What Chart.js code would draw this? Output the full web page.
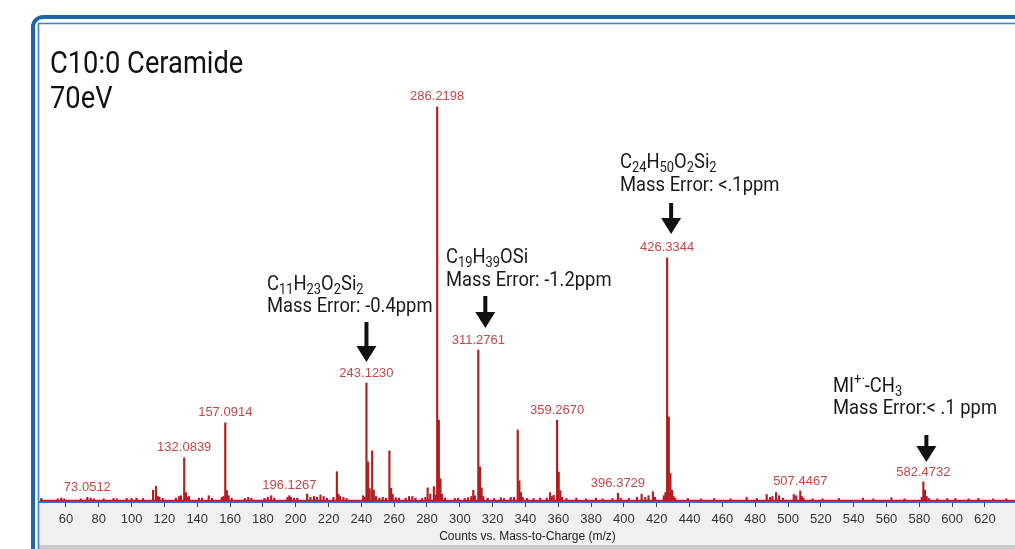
<!DOCTYPE html>
<html><head><meta charset="utf-8">
<script src="https://cdn.jsdelivr.net/npm/chart.js@4.4.1/dist/chart.umd.min.js"></script>
<style>
html,body{margin:0;padding:0;background:#fff;overflow:hidden;}
#wrap{position:relative;width:1015px;height:549px;}
</style></head><body>
<div id="wrap"><canvas id="c" width="1015" height="549"></canvas></div>
<script>
// ---- data ----
const peakMz = [45.0,55.0,57.1,59.0,69.0,73.05,75.0,77.0,83.0,89.0,91.0,97.0,100.0,103.0,107.0,113.1,114.9,116.0,117.0,119.0,127.0,129.0,130.1,132.08,133.1,134.1,135.0,141.0,143.0,147.0,149.0,155.0,156.0,157.09,158.1,159.1,161.0,169.0,171.1,173.0,181.0,183.0,185.1,187.0,195.0,196.13,197.1,199.0,201.0,207.0,209.0,211.1,213.0,215.1,217.0,219.0,223.0,225.1,226.1,227.1,229.1,231.0,241.1,242.1,243.12,244.12,245.1,246.6,247.6,249.0,251.0,253.0,255.0,257.1,258.1,259.1,261.0,263.0,267.0,269.1,271.1,273.0,277.0,279.0,280.4,282.0,284.2,285.2,286.22,287.22,288.2,289.2,291.0,297.0,299.0,303.0,305.0,307.0,308.2,309.2,311.28,312.28,313.28,314.3,317.0,321.0,325.0,327.0,331.0,333.0,335.3,336.3,337.3,338.3,341.0,345.0,349.0,353.0,355.0,356.0,357.2,359.27,360.27,361.27,362.3,365.0,371.0,377.0,383.0,387.0,393.0,396.37,398.0,403.0,408.0,410.8,413.0,415.0,417.7,419.0,424.3,425.3,426.33,427.33,428.33,429.3,430.3,431.3,439.0,447.0,455.0,465.0,474.8,481.0,487.0,489.0,490.5,492.7,494.5,497.0,503.5,505.0,507.45,508.4,509.4,515.0,521.0,531.0,545.6,552.0,563.0,571.0,581.5,582.47,583.47,584.47,586.0,591.0,597.0,602.0,610.0,616.0,625.0,633.0];
const peakIntensity = [0.5,0.4,0.6,0.4,0.4,0.8,0.6,0.4,0.4,0.5,0.4,0.5,0.5,0.6,0.5,2.6,3.6,1.0,0.8,0.5,0.6,1.0,1.2,10.8,2.0,0.8,1.0,0.6,0.6,1.2,0.6,0.8,1.0,19.7,2.5,1.2,0.6,0.5,0.8,0.6,0.5,0.8,1.2,0.6,0.8,1.2,0.8,0.6,0.6,1.6,0.8,1.0,0.8,1.4,1.0,0.6,0.8,7.3,1.6,1.0,0.8,0.5,1.2,0.8,29.8,9.8,3.0,12.6,2.6,1.0,0.6,0.8,0.6,12.6,3.1,1.6,0.7,0.6,0.6,1.0,1.0,0.6,0.5,0.8,3.2,1.6,3.5,1.4,100,20.4,5.5,1.6,0.6,0.5,0.6,0.5,0.7,1.0,2.6,1.2,38.2,8.5,3.2,1.0,0.6,0.5,0.7,0.5,0.8,0.8,17.9,5.0,2.0,0.8,0.5,0.5,0.6,0.6,2.0,1.0,1.3,20.4,7.2,2.5,0.8,0.5,0.6,0.4,0.6,0.4,0.5,1.8,0.6,0.5,0.8,1.6,0.8,1.2,2.2,0.8,1.2,2.0,61.6,21.2,6.8,2.6,1.0,0.6,0.5,0.4,0.5,0.4,0.8,0.5,1.5,0.8,1.0,2.0,1.2,0.6,1.5,1.2,2.4,1.0,0.6,0.4,0.4,0.5,0.6,0.4,0.7,0.4,0.8,4.7,2.6,1.0,0.5,0.4,0.5,0.5,0.4,0.5,0.4,0.4];
const peakLabels = ['73.0512','132.0839','157.0914','196.1267','243.1230','286.2198','311.2761','359.2670','396.3729','426.3344','507.4467','582.4732'];
const tickValues = [60,80,100,120,140,160,180,200,220,240,260,280,300,320,340,360,380,400,420,440,460,480,500,520,540,560,580,600,620];
const xMin = 44.2, xMax = 638.3;
const titleLines = ['C10:0 Ceramide','70eV'];
const axisTitle = 'Counts vs. Mass-to-Charge (m/z)';
const annFormula = ['C_{11}H_{23}O_{2}Si_{2}','C_{19}H_{39}OSi','C_{24}H_{50}O_{2}Si_{2}','MI^{+·}-CH_{3}'];
const annError = ['Mass Error: -0.4ppm','Mass Error: -1.2ppm','Mass Error: <.1ppm','Mass Error:< .1 ppm'];
const annPeak = [243.1230, 311.2761, 426.3344, 582.4732];

// ---- layout / style (not data) ----
const annLayout = [
  {textX:267, base1:290, base2:312, dx:0, top:322, tip:362},
  {textX:446, base1:263, base2:286, dx:7, top:296, tip:328},
  {textX:620, base1:168, base2:191, dx:4, top:203, tip:234},
  {textX:833, base1:392, base2:414, dx:3, top:435, tip:462}
];
const SANS = '"Liberation Sans", Arial, sans-serif';

function parseRich(s){
  const segs=[]; let i=0, buf='';
  while(i<s.length){
    if((s[i]==='_'||s[i]==='^') && s[i+1]==='{'){
      if(buf){segs.push({t:buf,k:'n'});buf='';}
      const j=s.indexOf('}',i);
      segs.push({t:s.slice(i+2,j),k:s[i]==='_'?'sub':'sup'});
      i=j+1;
    } else { buf+=s[i]; i++; }
  }
  if(buf) segs.push({t:buf,k:'n'});
  return segs;
}
function drawRich(ctx, s, x, y, size, sx, color){
  ctx.save();
  ctx.translate(x,y); ctx.scale(sx,1);
  ctx.fillStyle=color; ctx.textBaseline='alphabetic'; ctx.textAlign='left';
  let cx=0;
  for(const seg of parseRich(s)){
    let fs=size, dy=0;
    if(seg.k==='sub'){fs=size*0.7; dy=size*0.2;}
    if(seg.k==='sup'){fs=size*0.7; dy=-size*0.38;}
    ctx.font = fs+'px Roboto';
    ctx.fillText(seg.t,cx,dy);
    cx+=ctx.measureText(seg.t).width;
  }
  ctx.restore();
}

const decor = {
  id:'decor',
  beforeDraw(chart){
    const ctx=chart.ctx;
    ctx.save();
    ctx.fillStyle='#fff'; ctx.fillRect(0,0,1015,549);
    ctx.fillStyle='#f0f0f0'; ctx.fillRect(38,503,977,43);
    ctx.fillStyle='#c9c9c9'; ctx.fillRect(38,545,977,4);
    ctx.strokeStyle='#1d67a3'; ctx.lineWidth=4;
    ctx.beginPath(); ctx.moveTo(33,560); ctx.lineTo(33,27); ctx.arcTo(33,17,43,17,10); ctx.lineTo(1030,17); ctx.stroke();
    ctx.strokeStyle='#4a7ad0'; ctx.lineWidth=1.6;
    ctx.beginPath(); ctx.moveTo(38.5,560); ctx.lineTo(38.5,23.5); ctx.lineTo(1030,23.5); ctx.stroke();
    ctx.restore();
  },
  afterDraw(chart){
    const ctx=chart.ctx, xs=chart.scales.x, ys=chart.scales.y;
    ctx.save();
    drawRich(ctx,titleLines[0],50,73,31,0.88,'#111');
    drawRich(ctx,titleLines[1],50,108,31,0.88,'#111');
    ctx.font='13px '+SANS; ctx.fillStyle='#c24848'; ctx.textAlign='center'; ctx.textBaseline='middle';
    for(const lab of peakLabels){
      const v=parseFloat(lab);
      let bi=0; for(let i=0;i<peakMz.length;i++){ if(Math.abs(peakMz[i]-v)<Math.abs(peakMz[bi]-v)) bi=i; }
      const px=xs.getPixelForValue(v), py=ys.getPixelForValue(peakIntensity[bi])-10;
      ctx.fillText(lab,px,py);
    }
    annLayout.forEach((a,i)=>{
      drawRich(ctx,annFormula[i],a.textX,a.base1,20,0.92,'#1a1a1a');
      drawRich(ctx,annError[i],a.textX,a.base2,20,0.92,'#1a1a1a');
      const ax=xs.getPixelForValue(annPeak[i])+a.dx;
      ctx.fillStyle='#111';
      ctx.fillRect(ax-2,a.top,4,a.tip-a.top-14);
      ctx.beginPath(); ctx.moveTo(ax-10,a.tip-16); ctx.lineTo(ax+10,a.tip-16); ctx.lineTo(ax,a.tip); ctx.closePath(); ctx.fill();
    });
    ctx.restore();
  }
};

const peaks = peakMz.map((m,i)=>({x:m,y:peakIntensity[i]}));
new Chart(document.getElementById('c'),{
  type:'bar',
  data:{datasets:[
    {type:'line',data:[{x:xMin,y:0},{x:xMax,y:0}],borderColor:'#b42020',borderWidth:1.5,pointRadius:0,order:2},
    {type:'bar',data:peaks,backgroundColor:'#b01e1e',barThickness:1.5,order:1}
  ]},
  options:{
    responsive:false, animation:false,
    layout:{padding:{left:40,right:0,top:28,bottom:0}},
    plugins:{legend:{display:false},tooltip:{enabled:false}},
    scales:{
      x:{type:'linear',min:xMin,max:xMax,offset:false,
        afterBuildTicks:(s)=>{s.ticks=tickValues.map(v=>({value:v}));},
        afterFit:(s)=>{s.height=47;},
        grid:{offset:false,drawOnChartArea:false,drawTicks:true,tickLength:5,color:'#444'},
        border:{color:'#3868d8',width:2},
        ticks:{font:{family:SANS,size:13},color:'#333',padding:5,maxRotation:0,autoSkip:false},
        title:{display:true,text:axisTitle,font:{family:SANS,size:12},color:'#222',padding:{top:0,bottom:5}}
      },
      y:{display:false,min:-0.4,max:120}
    }
  },
  plugins:[decor]
});
</script>
</body></html>
